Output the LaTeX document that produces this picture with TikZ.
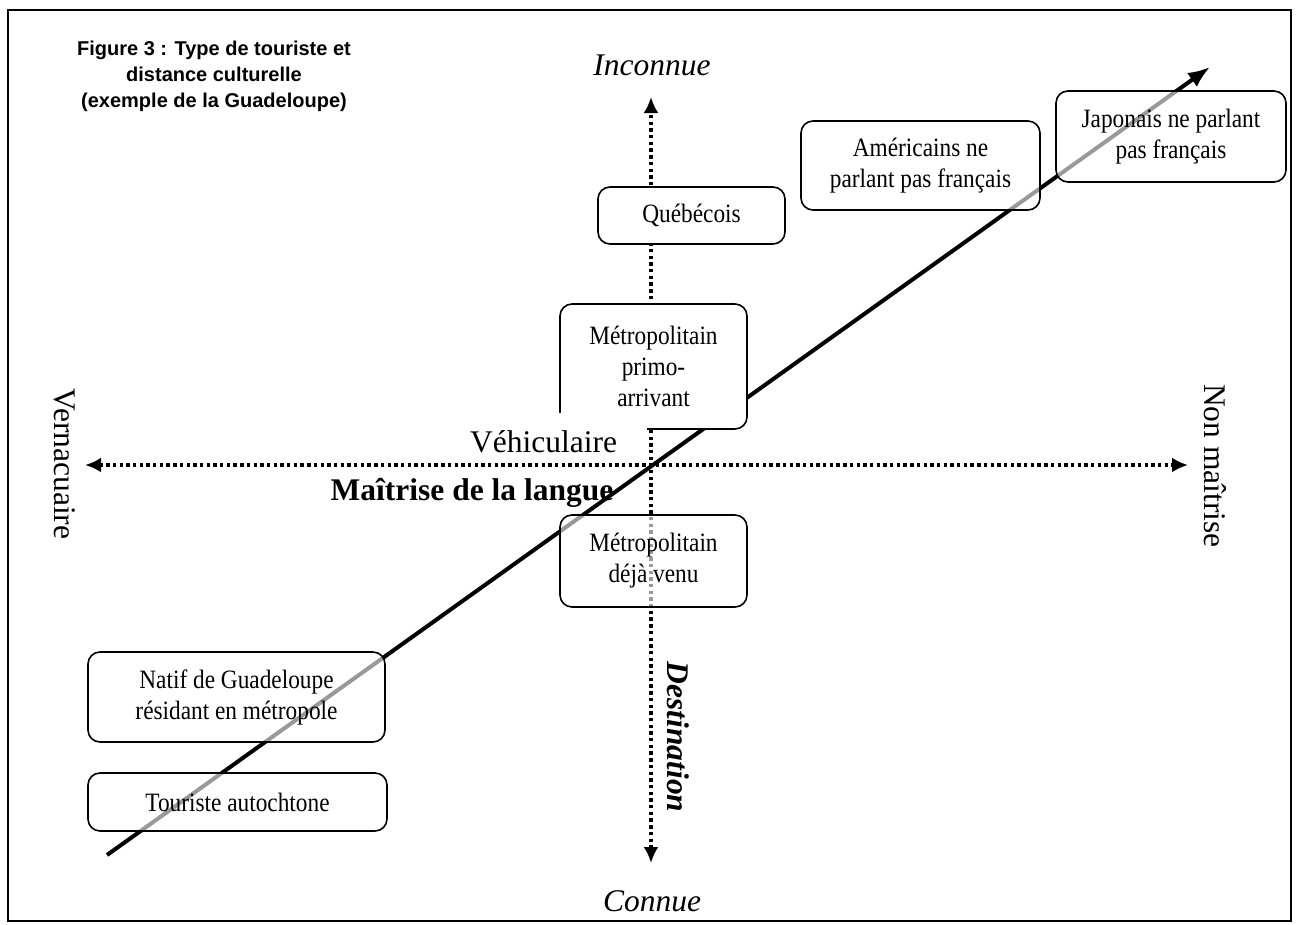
\documentclass[tikz,border=0pt]{standalone}
\usepackage{fontspec}
\setmainfont{Liberation Serif}
\newfontfamily\titre{Liberation Sans}
\newfontfamily\serre[FakeStretch=0.88]{Liberation Serif}
\usetikzlibrary{arrows.meta}

\begin{document}
\begin{tikzpicture}[x=1pt,y=-1pt,
	axe/.style={line width=3.8pt,dash pattern=on 3.4pt off 3.3pt,{Latex[length=16pt,width=15pt]}-{Latex[length=16pt,width=15pt]}},
	boite/.style={draw,line width=1.6pt,rounded corners=12pt,align=center,fill=white,font=\serre\fontsize{26.5}{31}\selectfont},
	voile/.style={boite,fill opacity=0.6,text opacity=1},
	etiq/.style={font=\fontsize{31.5}{36}\selectfont}]
		\useasboundingbox (0,0) rectangle (1298,924);
		\draw[line width=2pt] (8,10) rectangle (1291,921);
		% axes
		\coordinate (haut) at (651,97);
		\coordinate (bas) at (651,863);
		\coordinate (gauche) at (85,465);
		\coordinate (droite) at (1188,465);
		\draw[axe] (bas) -- (haut);
		\draw[axe] (gauche) -- (droite);
		\coordinate (debut) at (107,855);
		\coordinate (fin) at (1210,67);
		\draw[line width=4pt,-{Latex[length=22pt,width=17pt]}] (debut) -- (fin);
		% types de touristes
		\node[boite,minimum width=187pt,minimum height=57pt] (quebec) at (691.5,215.5) {Québécois};
		\node[voile,minimum width=239pt,minimum height=89pt] (americains) at (920.5,165.5) {Américains ne\\parlant pas français};
		\node[voile,minimum width=230pt,minimum height=91pt] (japonais) at (1171,136.5) {Japonais ne parlant\\pas français};
		\node[boite,minimum width=187pt,minimum height=125pt] (primo) at (653.5,366.5) {Métropolitain\\primo-\\arrivant};
		\node[voile,minimum width=187pt,minimum height=92pt] (deja) at (653.5,561) {Métropolitain\\déjà venu};
		\node[voile,minimum width=297pt,minimum height=90pt] (natif) at (236.5,697) {Natif de Guadeloupe\\résidant en métropole};
		\node[voile,minimum width=299pt,minimum height=58pt] (touriste) at (237.5,802) {Touriste autochtone};
		% etiquettes
		\node[etiq,fill=white,inner sep=0pt,minimum width=207pt,text height=39pt,text depth=9pt,anchor=base] (vehiculaire) at (543.5,452) {Véhiculaire};
		\node[etiq,anchor=base] (maitrise) at (472,500) {\bfseries Maîtrise de la langue};
		\node[etiq,anchor=base] (inconnue) at (652,75) {\itshape Inconnue};
		\node[etiq,anchor=base] (connue) at (652,911) {\itshape Connue};
		\node[etiq,rotate=-90] (destination) at (678,737) {\bfseries\itshape Destination};
		\node[etiq,rotate=-90] (vernac) at (65,464) {Vernacuaire};
		\node[etiq,rotate=-90] (nonmaitrise) at (1215,466) {Non maîtrise};
%		titre
		\node[font=\titre\bfseries\fontsize{20}{26}\selectfont,align=center,anchor=north,inner sep=0pt] (titre) at (214,41) {Figure 3 : Type de touriste et\\distance culturelle\\(exemple de la Guadeloupe)};
\end{tikzpicture}
\end{document}
